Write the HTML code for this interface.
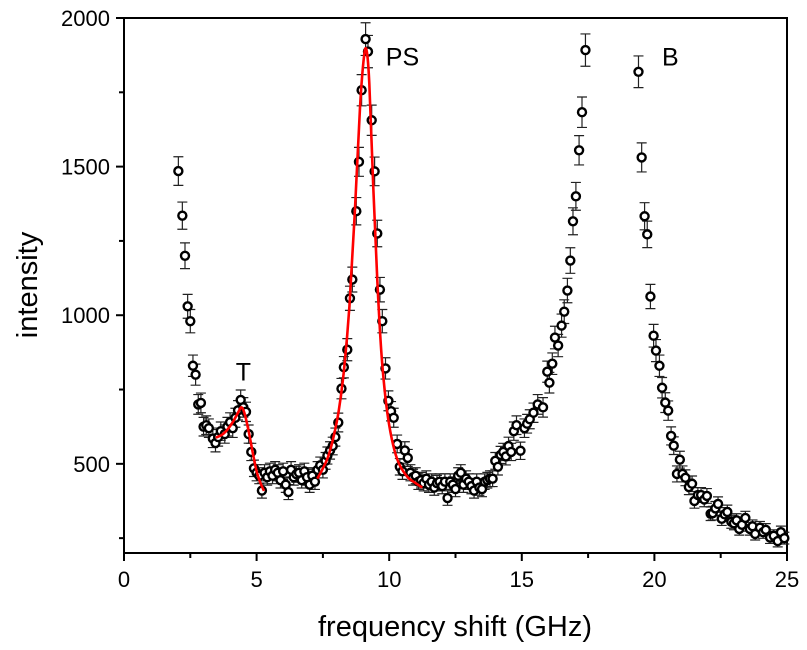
<!DOCTYPE html>
<html><head><meta charset="utf-8"><style>
html,body{margin:0;padding:0;background:#fff;}
svg{display:block;font-family:"Liberation Sans",Arial,sans-serif;}
</style></head><body>
<svg id="chart" width="807" height="650" viewBox="0 0 807 650">
<g id="plot"></g>
</svg>
<script>
const dataX = [2.05,2.2,2.3,2.4,2.5,2.6,2.7,2.8,2.9,3.0,3.1,3.2,3.35,3.45,3.55,3.65,3.8,3.9,4.0,4.1,4.2,4.3,4.4,4.5,4.6,4.7,4.8,4.9,5.0,5.1,5.2,5.3,5.4,5.5,5.6,5.7,5.8,5.9,6.0,6.1,6.2,6.3,6.4,6.5,6.6,6.7,6.8,6.9,7.0,7.1,7.2,7.3,7.4,7.5,7.6,7.67,7.77,7.87,7.97,8.08,8.2,8.29,8.42,8.52,8.61,8.76,8.86,8.96,9.11,9.2,9.34,9.45,9.55,9.65,9.74,9.86,9.97,10.07,10.17,10.3,10.4,10.5,10.59,10.7,10.8,10.9,11.0,11.1,11.2,11.3,11.4,11.5,11.6,11.7,11.8,11.9,12.0,12.1,12.2,12.3,12.4,12.5,12.6,12.7,12.8,12.9,13.0,13.1,13.2,13.3,13.4,13.5,13.6,13.7,13.8,13.9,14.0,14.1,14.2,14.3,14.4,14.5,14.6,14.7,14.8,14.95,15.1,15.2,15.3,15.44,15.6,15.8,15.96,16.04,16.15,16.25,16.37,16.5,16.6,16.72,16.83,16.93,17.04,17.16,17.27,17.4,19.4,19.52,19.63,19.73,19.85,19.97,20.06,20.19,20.29,20.41,20.52,20.63,20.73,20.85,20.96,21.06,21.17,21.3,21.42,21.51,21.64,21.76,21.88,21.98,22.12,22.2,22.3,22.4,22.54,22.65,22.75,22.9,23.0,23.1,23.2,23.3,23.43,23.6,23.7,23.8,23.98,24.1,24.2,24.36,24.5,24.65,24.77,24.9];
const dataY = [1485,1335,1200,1030,980,830,800,700,705,625,630,620,585,570,590,610,600,625,640,620,655,680,715,690,675,600,540,485,470,460,410,470,455,475,460,480,470,445,475,430,405,480,455,465,470,445,475,455,430,460,440,480,495,480,510,528,545,560,590,639,753,825,884,1057,1120,1350,1516,1757,1929,1887,1656,1484,1275,1086,980,821,712,677,655,567,490,475,545,520,470,455,460,440,445,435,450,430,440,420,435,440,425,440,385,440,430,415,460,470,430,450,440,425,410,440,420,415,440,445,450,450,510,490,530,540,525,560,540,610,630,544,620,635,650,672,700,690,810,773,837,925,898,965,1012,1083,1184,1316,1400,1555,1683,1892,1819,1531,1333,1272,1063,931,881,830,756,706,679,594,561,466,514,466,453,422,433,375,395,395,380,392,332,334,350,365,315,330,338,305,300,310,281,295,318,281,290,264,285,270,278,252,258,240,270,250];
const fitTX = [3.46,3.7,3.9,4.1,4.3,4.43,4.55,4.7,4.85,5.0,5.15,5.28];
const fitTY = [588,598,615,640,672,690,668,610,540,475,435,409];
const fitPX = [7.29,7.5,7.7,7.9,8.1,8.3,8.5,8.7,8.9,9.05,9.15,9.25,9.4,9.55,9.7,9.85,10.0,10.2,10.4,10.7,11.0,11.25];
const fitPY = [450,485,525,590,680,820,1030,1340,1700,1870,1890,1780,1430,1120,880,730,630,545,495,455,435,420];
const xTicks = [0,5,10,15,20,25];
const yTicks = [500,1000,1500,2000];
const xLabels = ["0","5","10","15","20","25"];
const yLabels = ["500","1000","1500","2000"];

const L=124,R=787,T=18,B=553,xMin=0,xMax=25,yMin=200,yMax=2000;
const sx=v=>L+(v-xMin)/(xMax-xMin)*(R-L);
const sy=v=>B-(v-yMin)/(yMax-yMin)*(B-T);
const NS="http://www.w3.org/2000/svg";
const g=document.getElementById('plot');
function mk(tag,attrs,parent){const e=document.createElementNS(NS,tag);for(const k in attrs)e.setAttribute(k,attrs[k]);(parent||g).appendChild(e);return e;}

const frame=mk('rect',{x:L,y:T,width:R-L,height:B-T,fill:'none',stroke:'#000','stroke-width':2});



xTicks.forEach((v,i)=>{
  const t=mk('line',{x1:sx(v),x2:sx(v),y1:B,y2:B+8,stroke:'#000','stroke-width':2});
  
  
  if(i<xTicks.length-1){const m=mk('line',{x1:sx(v+2.5),x2:sx(v+2.5),y1:B,y2:B+5,stroke:'#000','stroke-width':2});
  
  }
  const lb=mk('text',{x:sx(v),y:B+34,'text-anchor':'middle','font-size':22,fill:'#000'});
  lb.textContent=xLabels[i];
  
  
});
[250,500,750,1000,1250,1500,1750,2000].forEach(v=>{
  const major=v%500===0;
  const t=mk('line',{x1:L,x2:L-(major?8:5),y1:sy(v),y2:sy(v),stroke:'#000','stroke-width':2});
  
  
});
yTicks.forEach((v,i)=>{
  const lb=mk('text',{x:L-14,y:sy(v)+8,'text-anchor':'end','font-size':22,fill:'#000'});
  lb.textContent=yLabels[i];
  
  
});

dataX.forEach((xv,i)=>{
  const yv=dataY[i];const e=1.25*Math.sqrt(yv);
  const cx=sx(xv),y1=sy(yv+e),y2=sy(yv-e);
  const eb=mk('path',{d:`M${cx},${y1}V${y2}M${cx-5},${y1}H${cx+5}M${cx-5},${y2}H${cx+5}`,stroke:'#222','stroke-width':1.2,fill:'none'});
  
  
});
function curve(xs,ys,name){
  const pts=xs.map((v,i)=>[sx(v),sy(ys[i])]);
  let d=`M${pts[0][0]},${pts[0][1]}`;
  for(let i=0;i<pts.length-1;i++){
    const p0=pts[Math.max(0,i-1)],p1=pts[i],p2=pts[i+1],p3=pts[Math.min(pts.length-1,i+2)];
    d+=`C${p1[0]+(p2[0]-p0[0])/6},${p1[1]+(p2[1]-p0[1])/6} ${p2[0]-(p3[0]-p1[0])/6},${p2[1]-(p3[1]-p1[1])/6} ${p2[0]},${p2[1]}`;
  }
  const c=mk('path',{d:d,stroke:'#f00','stroke-width':2.6,fill:'none'});
  
  
}
dataX.forEach((xv,i)=>{
  const p=mk('circle',{cx:sx(xv),cy:sy(dataY[i]),r:4,fill:'#fff',stroke:'#000','stroke-width':2.4});
  
  
});
curve(fitTX,fitTY,'fit-curve-t');
curve(fitPX,fitPY,'fit-curve-ps');

[['T',4.5,780,'peak-label-t'],['PS',10.5,1840,'peak-label-ps'],['B',20.6,1840,'peak-label-b']].forEach(a=>{
  const t=mk('text',{x:sx(a[1]),y:sy(a[2]),'text-anchor':'middle','font-size':25,fill:'#000'});
  t.textContent=a[0];
  
  
});
const xt=mk('text',{x:455,y:636,'text-anchor':'middle','font-size':29,fill:'#000'});
xt.textContent='frequency shift (GHz)';


const yt=mk('text',{x:0,y:0,'text-anchor':'middle','font-size':29,fill:'#000',transform:'translate(37,285) rotate(-90)'});
yt.textContent='intensity';


</script>
</body></html>
